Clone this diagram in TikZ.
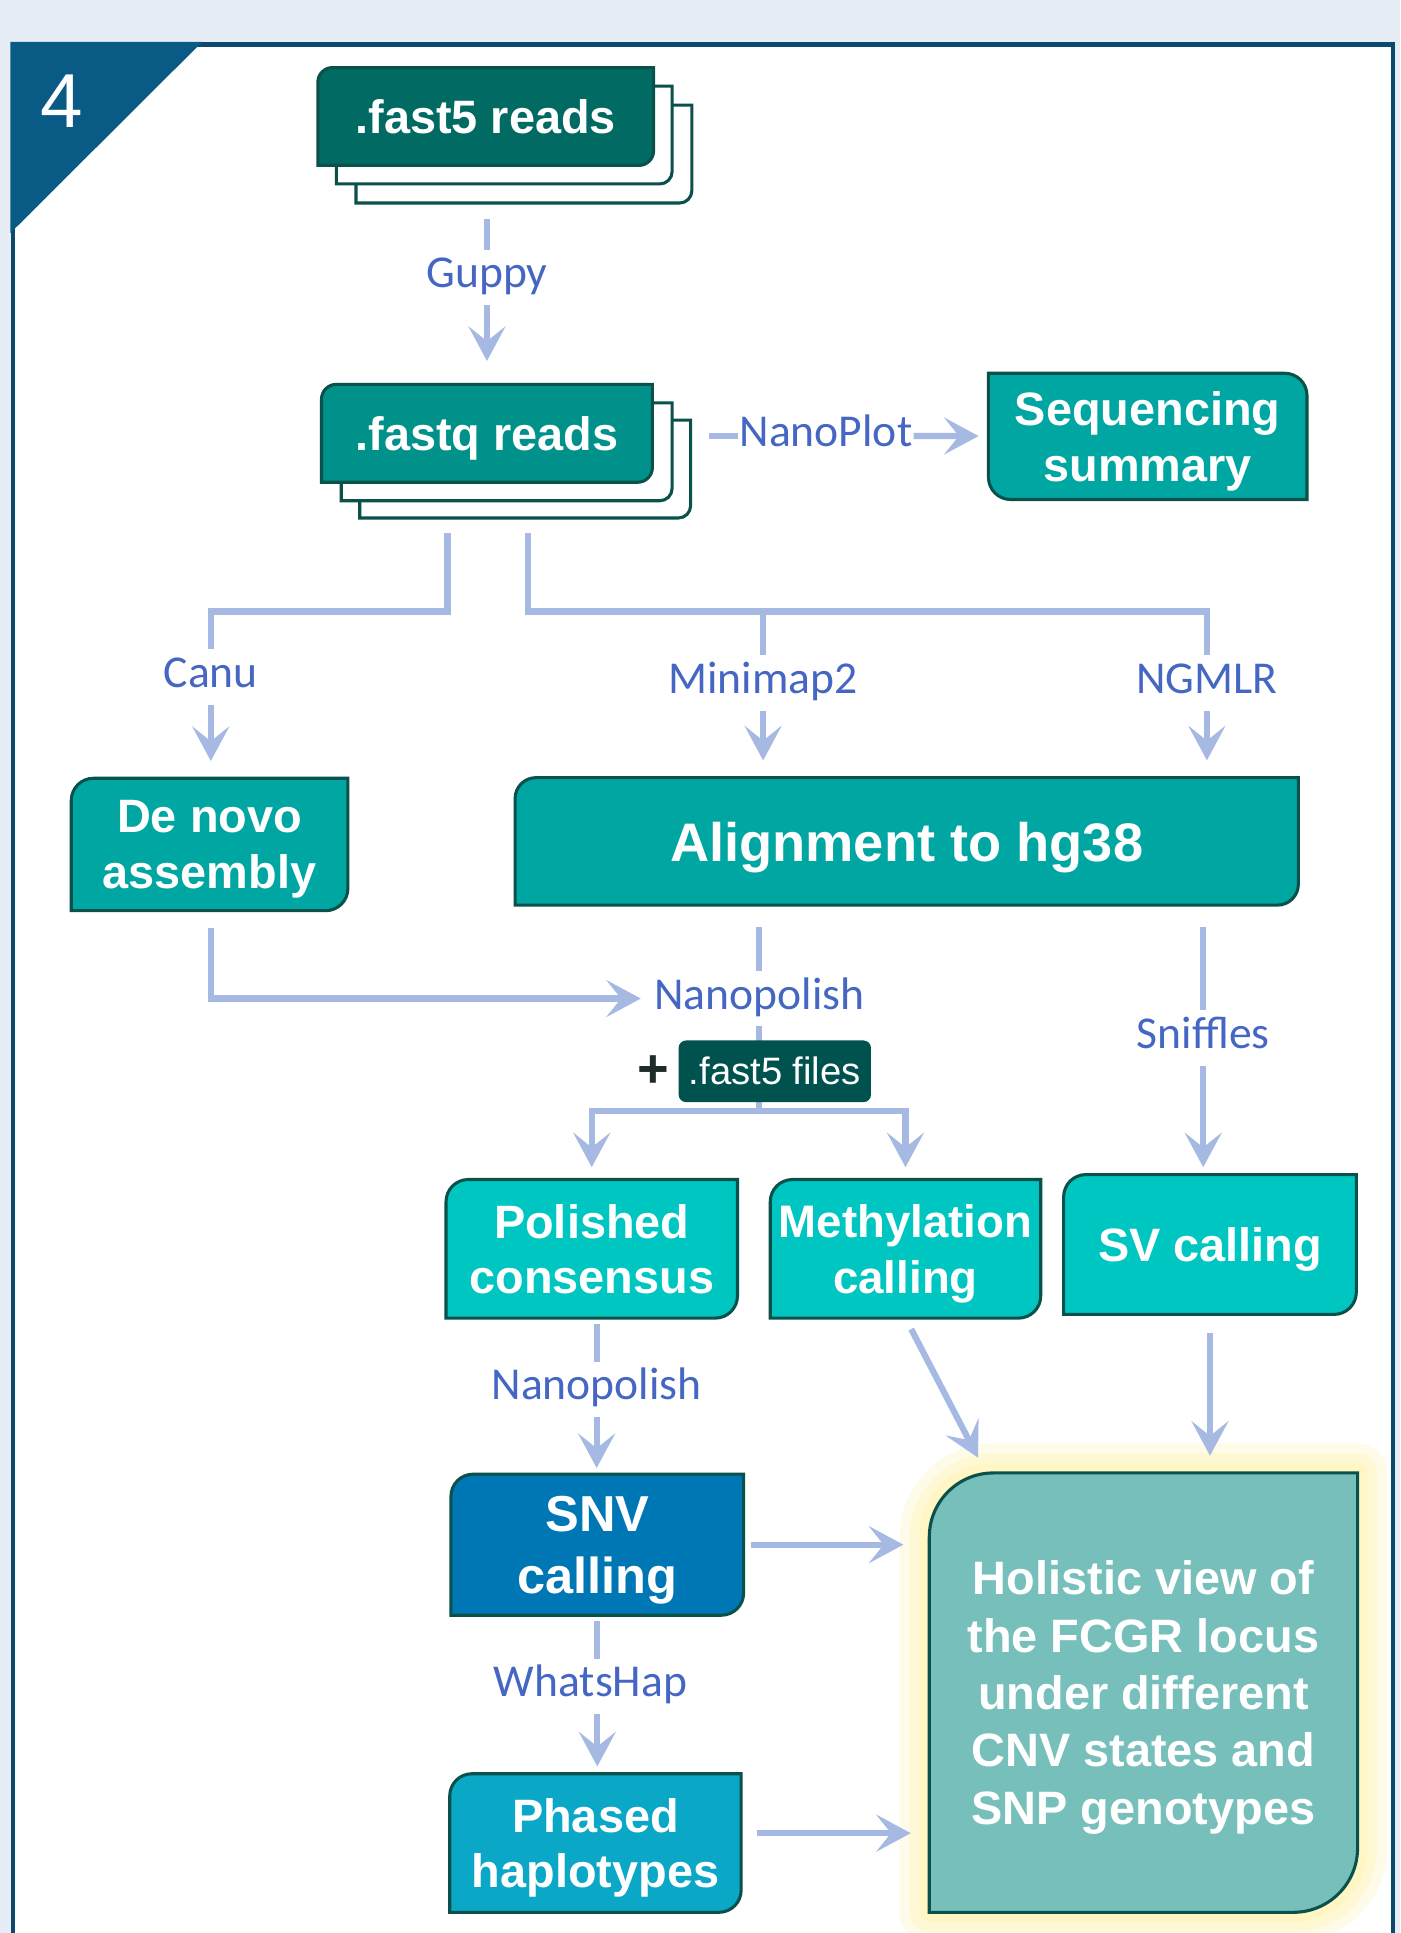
\documentclass[tikz,border=0pt]{standalone}
\usepackage{fontspec}
\setmainfont{Liberation Sans}
\newfontfamily\toolfont{Carlito}
\usetikzlibrary{arrows.meta,backgrounds}

\definecolor{pagebg}{HTML}{E6EDF5}
\definecolor{framenavy}{HTML}{0B4A6C}
\definecolor{cornerblue}{HTML}{0A5A86}
\definecolor{edgeteal}{HTML}{0A514C}
\definecolor{fastfivegreen}{HTML}{006A63}
\definecolor{fastqgreen}{HTML}{00918A}
\definecolor{midteal}{HTML}{00A6A1}
\definecolor{brightteal}{HTML}{00C6C2}
\definecolor{snvblue}{HTML}{0077B5}
\definecolor{phasedblue}{HTML}{0AA7C7}
\definecolor{holisticteal}{HTML}{77BFBA}
\definecolor{filesgreen}{HTML}{00524E}
\definecolor{plusdark}{HTML}{1E2D2B}
\definecolor{flowblue}{HTML}{A5B9E3}
\definecolor{toolblue}{HTML}{4567C3}
\definecolor{glowyellow}{HTML}{FFF3A8}

\tikzset{
  boxsize/.style 2 args={minimum width=#1pt, minimum height=#2pt, inner sep=0pt},
  boxtext/.style={text=white, font=\bfseries\fontsize{38}{45}\selectfont, align=center, text depth=0pt},
  tool/.style={text=toolblue, font=\toolfont\fontsize{37}{40}\selectfont,
    text height=25pt, text depth=8pt, inner sep=0pt, outer xsep=1pt, outer ysep=6pt},
  flow/.style={draw=flowblue, line width=5pt},
  arrowflow/.style={flow, -{Stealth[length=28pt, width=30pt, inset=12pt]}},
  boxedge/.style={draw=edgeteal, line width=2.5pt},
}

% top left and bottom right corners rounded
\newcommand\tlbr[3][]{%
  \path[#1] (#2.south west) -- ([yshift=-#3]#2.north west)
    arc[start angle=180, end angle=90, radius=#3] -- (#2.north east)
    -- ([yshift=#3]#2.south east)
    arc[start angle=0, end angle=-90, radius=#3] -- cycle;}
% top right and bottom left corners rounded
\newcommand\trbl[3][]{%
  \path[#1] (#2.north west) -- ([xshift=-#3]#2.north east)
    arc[start angle=90, end angle=0, radius=#3] -- (#2.south east)
    -- ([xshift=#3]#2.south west)
    arc[start angle=270, end angle=180, radius=#3] -- cycle;}
% white sheets behind the reads
\newcommand\readsheet[1]{%
  \path[boxedge, fill=white] (#1.south west) -- (#1.north west) -- (#1.north east)
    -- ([yshift=10pt]#1.south east)
    arc[start angle=0, end angle=-90, radius=10pt] -- cycle;}

\begin{document}
\begin{tikzpicture}[x=1pt, y=-1pt]
\useasboundingbox (0,0) rectangle (1136,1568);

\node[text=white, font=\fontsize{62}{62}\selectfont] (panel) at (50,82) {4};

% boxes
\node[boxtext, boxsize={272}{79}] (fast5) at (394,94.5) {.fast5 reads};
\node[boxsize={272}{79}] (fast5b) at (409,109.5) {};
\node[boxsize={272}{79}] (fast5c) at (425,125) {};
\node[boxtext, boxsize={268}{79}] (fastq) at (395,351.5) {.fastq reads};
\node[boxsize={268}{79}] (fastqb) at (411,366.5) {};
\node[boxsize={268}{79}] (fastqc) at (426,380.5) {};
\node[boxtext, boxsize={258}{102}] (summary) at (931,354) {Sequencing\\summary};
\node[boxtext, boxsize={224}{107}] (denovo) at (170,685) {De novo\\assembly};
\node[boxtext, boxsize={635}{103}, font=\bfseries\fontsize{44}{50}\selectfont] (align) at (735.5,682.5) {Alignment to hg38};
\node[boxtext, boxsize={236}{112}] (polished) at (480,1013) {Polished\\consensus};
\node[boxtext, boxsize={219}{112}, font=\bfseries\fontsize{37}{45}\selectfont] (methyl) at (734.5,1013) {Methylation\\calling};
\node[boxtext, boxsize={237}{113}] (sv) at (981.5,1009.5) {SV calling};
\node[boxtext, boxsize={237}{114}, font=\bfseries\fontsize{41}{50}\selectfont] (snv) at (484.5,1253) {SNV\\calling};
\node[boxtext, boxsize={236}{112}] (phased) at (483,1495) {Phased\\haplotypes};
\node[boxtext, boxsize={347}{356}, font=\bfseries\fontsize{38}{46.5}\selectfont] (holistic) at (927.5,1373)
  {Holistic view of\\the FCGR locus\\under different\\CNV states and\\SNP genotypes};

% tools
\node[tool, anchor=base] (guppy) at (395,233.5) {Guppy};
\node[tool, anchor=base] (nanoplot) at (670,362) {NanoPlot};
\node[tool, anchor=base] (canu) at (171,557.5) {Canu};
\node[tool, anchor=base] (minimap) at (619,562.5) {Minimap2};
\node[tool, anchor=base] (ngmlr) at (979,562.5) {NGMLR};
\node[tool, anchor=base] (polishA) at (616,818.5) {Nanopolish};
\node[tool, anchor=base] (sniffles) at (976,850.5) {Sniffles};
\node[tool, anchor=base] (polishB) at (484,1135.5) {Nanopolish};
\node[tool, anchor=base] (whatshap) at (479,1376.5) {WhatsHap};

\coordinate (forkL) at (171,496);
\coordinate (forkR) at (979,496);
\coordinate (split) at (616,901);

% connectors
\draw[flow, shorten <=13pt] (fast5c.south -| guppy) -- (guppy);
\draw[arrowflow, shorten >=19pt] (guppy) -- (guppy |- fastq.north);
\draw[flow, shorten <=15pt] (fastqc.east |- nanoplot) -- (nanoplot);
\draw[arrowflow, shorten >=8pt] (nanoplot) -- (summary);
\draw[flow, shorten <=12pt] ([xshift=-32pt]fastqc.south -| fastq.south) |- (forkL) -- (canu);
\draw[flow, shorten <=12pt] ([xshift=33pt]fastqc.south -| fastq.south) |- (forkR) -- (ngmlr);
\draw[flow] (minimap |- forkR) -- (minimap);
\draw[arrowflow, shorten >=14pt] (canu) -- (canu |- denovo.north);
\draw[arrowflow, shorten >=14pt] (minimap) -- (minimap |- align.north);
\draw[arrowflow, shorten >=14pt] (ngmlr) -- (ngmlr |- align.north);
\draw[arrowflow, shorten <=14pt, shorten >=10pt] (denovo.south -| canu) |- (polishA);
\draw[flow, shorten <=18pt] (align.south -| polishA) -- (polishA);
\draw[flow] (polishA) -- (split);
\draw[arrowflow, shorten >=10pt] (split) -| (polished.north);
\draw[arrowflow, shorten >=10pt] (split) -| (methyl.north);
\node[fill=filesgreen, rounded corners=6pt, text=white, font=\fontsize{31}{36}\selectfont,
  minimum width=156pt, minimum height=50pt, inner sep=0pt] (files) at (628.5,869) {.fast5 files};
\node[text=plusdark, font=\bfseries\fontsize{44}{44}\selectfont] (plus) at (530,869) {+};
\draw[flow, shorten <=18pt] (align.south -| sniffles) -- (sniffles);
\draw[arrowflow, shorten >=6pt] (sniffles) -- (sniffles |- sv.north);
\draw[flow, shorten <=5pt] (polished.south -| polishB) -- (polishB);
\draw[arrowflow, shorten >=5pt] (polishB) -- (polishB |- snv.north);
\draw[flow, shorten <=5pt] (snv.south) -- (snv.south |- whatshap.north);
\draw[arrowflow, shorten >=6pt] (snv.south |- whatshap.south) -- (snv.south |- phased.north);
\draw[arrowflow, shorten <=10pt, shorten >=14pt] (methyl.south) -- ([xshift=46pt]holistic.north west);
\draw[arrowflow, shorten <=15pt, shorten >=14pt] (sv.south) -- (sv.south |- holistic.north);
\draw[arrowflow, shorten <=6pt, shorten >=21pt] (snv.east) -- (snv.east -| holistic.west);
\draw[arrowflow, shorten <=13pt, shorten >=15pt] ([yshift=8pt]phased.east) -- ([yshift=8pt]phased.east -| holistic.west);

\begin{scope}[on background layer]
\fill[pagebg] (0,0) rectangle (1136,1568);
\filldraw[fill=white, draw=framenavy, line width=3.5pt] (10.5,36) rectangle (1130,1600);
\fill[cornerblue] (8.5,34) -- (164,34) -- (8.5,189) -- cycle;
\readsheet{fast5c} \readsheet{fast5b}
\tlbr[boxedge, fill=fastfivegreen]{fast5}{12pt}
\readsheet{fastqc} \readsheet{fastqb}
\tlbr[boxedge, fill=fastqgreen]{fastq}{12pt}
\trbl[boxedge, fill=midteal]{summary}{18pt}
\tlbr[boxedge, fill=midteal]{denovo}{18pt}
\tlbr[boxedge, fill=midteal]{align}{17pt}
\tlbr[boxedge, fill=brightteal]{polished}{18pt}
\tlbr[boxedge, fill=brightteal]{methyl}{18pt}
\tlbr[boxedge, fill=brightteal]{sv}{18pt}
\tlbr[boxedge, fill=snvblue]{snv}{18pt}
\tlbr[boxedge, fill=phasedblue]{phased}{18pt}
\foreach \w/\o in {48pt/.25,32pt/.3,16pt/.4}
  \tlbr[draw=glowyellow, line width=\w, opacity=\o, line join=round]{holistic}{52pt};
\tlbr[boxedge, fill=holisticteal]{holistic}{52pt}
\end{scope}
\end{tikzpicture}
\end{document}
